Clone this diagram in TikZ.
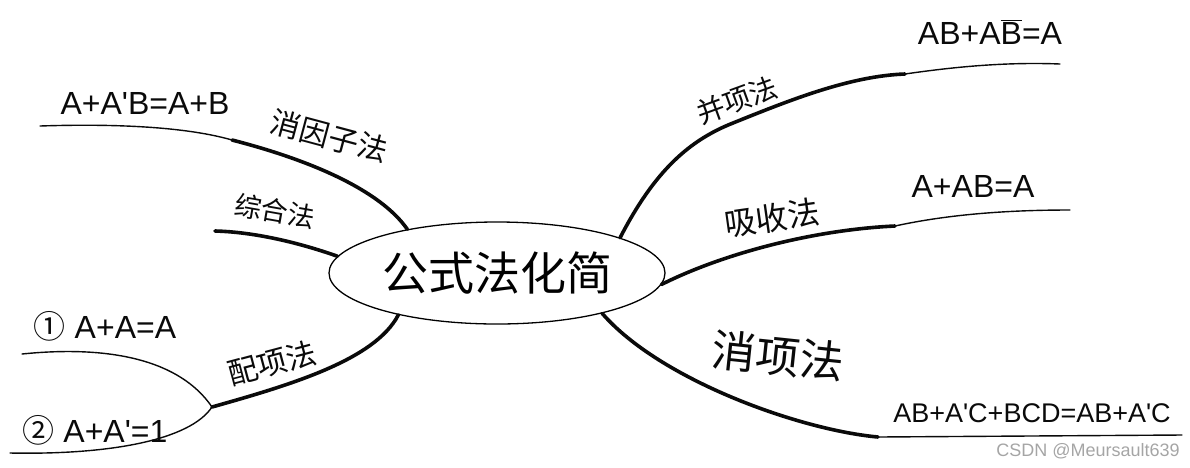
\documentclass[tikz,border=0pt]{standalone}
\usepackage{fontspec}
\setmainfont{Noto Sans CJK SC}
\newfontfamily\latinfont{Liberation Sans}
\usetikzlibrary{shapes.geometric, positioning, calc}
\definecolor{inkblack}{RGB}{10,10,10}
\definecolor{markgray}{RGB}{165,165,165}

\tikzset{
  trunk/.style={line width=3.6pt, line cap=round, inkblack},
  twig/.style={line width=1.4pt, line cap=round, inkblack},
  method/.style={inner sep=0pt, inkblack},
  formula/.style={inner sep=0pt, inkblack, font=\latinfont\fontsize{32}{36}\selectfont},
}

\begin{document}
\begin{tikzpicture}[x=1pt, y=-1pt]
    \useasboundingbox (0,0) rectangle (1190,467);

    % Centre
    \node[ellipse, draw, line width=1.3pt, minimum width=336pt, minimum height=102pt, inner sep=0pt,
          font=\fontsize{46}{50}\selectfont] (simp) at (497,273) {公式法化简};

    % Left: 消因子法
    \coordinate (yzEnd) at (232,140);
    \coordinate (yzTip) at (40,126);
    \draw[trunk] (simp.154) .. controls (380,190) and (310,160) .. (yzEnd);
    \draw[twig] (yzEnd) .. controls (180,125) and (100,124) .. (yzTip);
    \node[method, font=\fontsize{30}{34}\selectfont, rotate=-15] (yzLabel) at (329,136) {消因子法};
    \node[formula] (yzForm) at (145,103) {A+A'B=A+B};

    % Left: 综合法
    \coordinate (zhEnd) at (215,231);
    \draw[trunk] (simp.174) .. controls (300,243) and (255,232) .. (zhEnd);
    \node[method, font=\fontsize{27}{30}\selectfont, rotate=-10] (zhLabel) at (275,211) {综合法};

    % Left: 配项法
    \coordinate (pxFork) at (212,407);
    \coordinate (pxUp) at (22,354);
    \coordinate (pxDown) at (10,453);
    \draw[trunk] (simp.203) .. controls (375,360) and (290,385) .. (pxFork);
    \draw[twig] (pxFork) .. controls (180,360) and (110,345) .. (pxUp);
    \draw[twig] (pxFork) .. controls (190,440) and (110,455) .. (pxDown);
    \node[method, font=\fontsize{30}{34}\selectfont, rotate=15] (pxLabel) at (272,363) {配项法};
    \node[formula] (pxFormA) at (105,326) {{\fontspec{Noto Sans CJK SC}①} A+A=A};
    \node[formula] (pxFormB) at (95,430) {{\fontspec{Noto Sans CJK SC}②} A+A'=1};

    % Right: 并项法
    \coordinate (bxBend) at (733,123);
    \coordinate (bxEnd) at (905,74);
    \coordinate (bxTip) at (1060,64);
    \draw[trunk] (simp.16) .. controls (655,170) and (690,140) .. (bxBend)
                 .. controls (790,100) and (850,76) .. (bxEnd);
    \draw[twig] (bxEnd) .. controls (960,66) and (1010,62) .. (bxTip);
    \node[method, font=\fontsize{28}{32}\selectfont, rotate=20] (bxLabel) at (737,100) {并项法};
    \node[formula] (bxForm) at (990,32) {AB+A$\overline{\mbox{B}}$=A};

    % Right: 吸收法
    \coordinate (xsEnd) at (895,226);
    \coordinate (xsTip) at (1070,210);
    \draw[trunk] (simp.-4) .. controls (720,255) and (810,230) .. (xsEnd);
    \draw[twig] (xsEnd) .. controls (950,214) and (1010,210) .. (xsTip);
    \node[method, font=\fontsize{32}{36}\selectfont, rotate=8] (xsLabel) at (772,218) {吸收法};
    \node[formula] (xsForm) at (973,186) {A+AB=A};

    % Right: 消项法
    \coordinate (xxEnd) at (878,437);
    \coordinate (xxTip) at (1182,435);
    \draw[trunk] (simp.-21) .. controls (660,380) and (800,430) .. (xxEnd);
    \draw[twig] (xxEnd) -- (xxTip);
    \node[method, font=\fontsize{44}{48}\selectfont, rotate=-6] (xxLabel) at (778,356) {消项法};
    \node[formula, font=\latinfont\fontsize{27}{30}\selectfont] (xxForm) at (1032,413) {AB+A'C+BCD=AB+A'C};

    % Watermark
    \node[inner sep=0pt, markgray, font=\latinfont\fontsize{18}{20}\selectfont] (mark) at (1088,451) {CSDN @Meursault639};
\end{tikzpicture}
\end{document}
